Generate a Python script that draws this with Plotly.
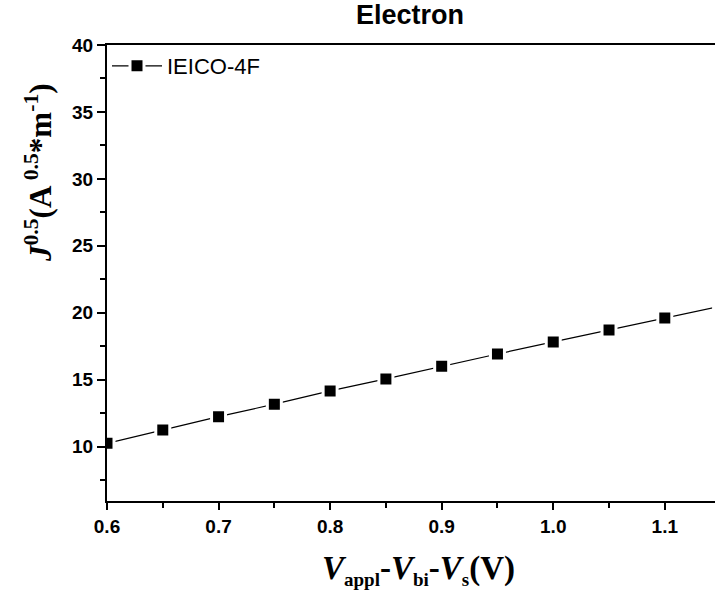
import plotly.graph_objects as go

# Space-charge-limited current data for the electron-only device
voltage = [0.60, 0.65, 0.70, 0.75, 0.80, 0.85, 0.90, 0.95, 1.00, 1.05, 1.10, 1.15]
sqrt_current = [10.25, 11.25, 12.24, 13.17, 14.16, 15.06, 16.00, 16.92, 17.82, 18.72, 19.61, 20.50]
series_name = "IEICO-4F"
x_ticks = [0.6, 0.7, 0.8, 0.9, 1.0, 1.1]
x_tick_text = ["0.6", "0.7", "0.8", "0.9", "1.0", "1.1"]
y_ticks = [10, 15, 20, 25, 30, 35, 40]

W, H = 715, 590
L, R, T, B = 107, 0, 45, 89

fig = go.Figure()
fig.add_trace(go.Scatter(
    x=voltage, y=sqrt_current, name=series_name,
    mode="lines+markers",
    line=dict(color="black", width=1.2),
    marker=dict(symbol="square", size=14, color="black",
                line=dict(color="white", width=3)),
    cliponaxis=True,
))

sans = "Liberation Sans, Arial"
serif = "Liberation Serif, Times New Roman"
tick_font = dict(family=sans, size=19, color="black", weight="bold")

x_title = ("<b><i>V</i><sub><span style='font-size:19px'>appl</span></sub>-"
           "<i>V</i><sub><span style='font-size:19px'>bi</span></sub>-"
           "<i>V</i><sub><span style='font-size:19px'>s</span></sub>(V)</b>")
y_title = "<b><i>J</i><sup>0.5</sup>(A<sup> 0.5</sup>*m<sup>-1</sup>)</b>"

fig.update_layout(
    width=W, height=H,
    margin=dict(l=L, r=R, t=T, b=B),
    paper_bgcolor="white", plot_bgcolor="white",
    title=dict(text="<b>Electron</b>", x=410 / W, xanchor="center",
               y=1 - 15 / H, yanchor="middle", yref="container",
               font=dict(family=sans, size=27, color="black")),
    showlegend=True,
    legend=dict(x=0.0, y=1.0, xanchor="left", yanchor="top",
                itemwidth=50, bgcolor="rgba(0,0,0,0)",
                font=dict(family=sans, size=22, color="black")),
    xaxis=dict(
        range=[0.6, 1.145], tickvals=x_ticks, ticktext=x_tick_text,
        ticks="outside", ticklen=7, tickwidth=2, tickcolor="black",
        minor=dict(dtick=0.05, ticks="outside", ticklen=5, tickwidth=2, tickcolor="black"),
        showline=True, linewidth=2, linecolor="black", mirror=True,
        showgrid=False, zeroline=False, tickfont=tick_font,
    ),
    yaxis=dict(
        range=[5.94, 40], tickvals=y_ticks,
        ticks="outside", ticklen=8, tickwidth=2, tickcolor="black",
        minor=dict(dtick=2.5, tick0=0, ticks="outside", ticklen=5, tickwidth=2, tickcolor="black"),
        showline=True, linewidth=2, linecolor="black", mirror=False,
        showgrid=False, zeroline=False, tickfont=tick_font,
    ),
    annotations=[
        dict(text=x_title, xref="paper", yref="paper",
             x=(418 - L) / (W - L - R), y=-(570 - (H - B)) / (H - T - B),
             xanchor="center", yanchor="middle", showarrow=False,
             font=dict(family=serif, size=33, color="black")),
        dict(text=y_title, xref="paper", yref="paper", textangle=-90,
             x=-(L - 38) / (W - L - R), y=(H - B - 173) / (H - T - B),
             xanchor="center", yanchor="middle", showarrow=False,
             font=dict(family=serif, size=31, color="black")),
    ],
)

fig.write_html("out.html")
